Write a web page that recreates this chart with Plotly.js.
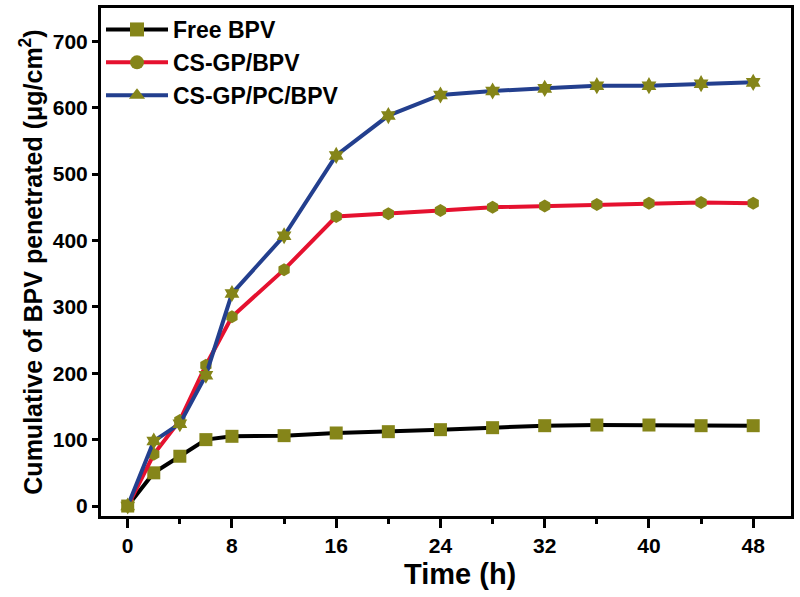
<!DOCTYPE html>
<html><head><meta charset="utf-8">
<script src="https://cdn.plot.ly/plotly-3.0.1.min.js"></script>
<style>html,body{margin:0;padding:0;background:#fff}#c{width:800px;height:597px}</style>
</head><body><div id="c"></div>
<script>
const timeH = [0, 2, 4, 6, 8, 12, 16, 20, 24, 28, 32, 36, 40, 44, 48];
const freeBPV = [0, 50, 75, 100, 105, 106, 110, 112, 115, 118, 121, 122, 122, 121, 121];
const csgpBPV = [0, 78, 129, 212, 285, 356, 436, 440, 445, 450, 452, 454, 456, 457, 456];
const csgpPcBPV = [0, 98, 124, 197, 320, 407, 528, 588, 619, 625, 629, 633, 633, 636, 638];
const seriesNames = ['Free BPV', 'CS-GP/BPV', 'CS-GP/PC/BPV'];
const xTicks = [0, 8, 16, 24, 32, 40, 48];
const xMinorTicks = [4, 12, 20, 28, 36, 44];
const yTicks = [0, 100, 200, 300, 400, 500, 600, 700];

const markerColor = '#858519';
const lineColors = ['#000000', '#e5112f', '#233f8e'];
const dataSymbols = ['square', 'hexagon', 'hexagram'];
const legendSymbols = ['square', 'circle', 'triangle-up'];
const ys = [freeBPV, csgpBPV, csgpPcBPV];

const traces = [];
ys.forEach((y, i) => {
  traces.push({
    x: timeH, y: y, mode: 'lines+markers', showlegend: false,
    line: {color: lineColors[i], width: 4},
    marker: {symbol: dataSymbols[i], size: 13, color: markerColor}
  });
});
ys.forEach((y, i) => {
  traces.push({
    x: [null], y: [null], mode: 'lines+markers', name: seriesNames[i],
    line: {color: lineColors[i], width: 4},
    marker: {symbol: legendSymbols[i], size: 14, color: markerColor}
  });
});

const fontFam = 'Liberation Sans, Arial, sans-serif';
const layout = {
  width: 800, height: 597,
  margin: {l: 101, r: 9, t: 8, b: 81},
  paper_bgcolor: '#fff', plot_bgcolor: '#fff',
  showlegend: true,
  legend: {x: 0.0, y: 1.0, xanchor: 'left', yanchor: 'top', bgcolor: 'rgba(0,0,0,0)',
    font: {family: fontFam, size: 23, color: '#000', weight: 'bold'},
    itemwidth: 62, tracegroupgap: 0},
  xaxis: {
    range: [-2.05, 50.9], tickvals: xTicks, ticktext: xTicks.map(String),
    ticks: 'outside', ticklen: 9, tickwidth: 3, tickcolor: '#000',
    minor: {tickvals: xMinorTicks, ticks: 'outside', ticklen: 5, tickwidth: 3, tickcolor: '#000'},
    showline: true, linewidth: 3, linecolor: '#000', mirror: true,
    showgrid: false, zeroline: false,
    tickfont: {family: fontFam, size: 21, color: '#000', weight: 'bold'}
  },
  yaxis: {
    range: [-15, 750], tickvals: yTicks, ticktext: yTicks.map(String),
    ticks: 'outside', ticklen: 6, tickwidth: 3, tickcolor: '#000',
    showline: true, linewidth: 3, linecolor: '#000', mirror: true,
    showgrid: false, zeroline: false,
    tickfont: {family: fontFam, size: 21, color: '#000', weight: 'bold'},
    title: {text: 'Cumulative of BPV penetrated (μg/cm<sup>2</sup>)', font: {family: fontFam, size: 25, color: '#000', weight: 'bold'}, standoff: 4}
  },
  annotations: [{
    text: 'Time (h)', xref: 'paper', yref: 'paper', x: 0.52, y: 0, yshift: -40,
    xanchor: 'center', yanchor: 'top', showarrow: false,
    font: {family: fontFam, size: 29, color: '#000', weight: 'bold'}
  }]
};
Plotly.newPlot('c', traces, layout, {displayModeBar: false, staticPlot: true});
</script></body></html>
